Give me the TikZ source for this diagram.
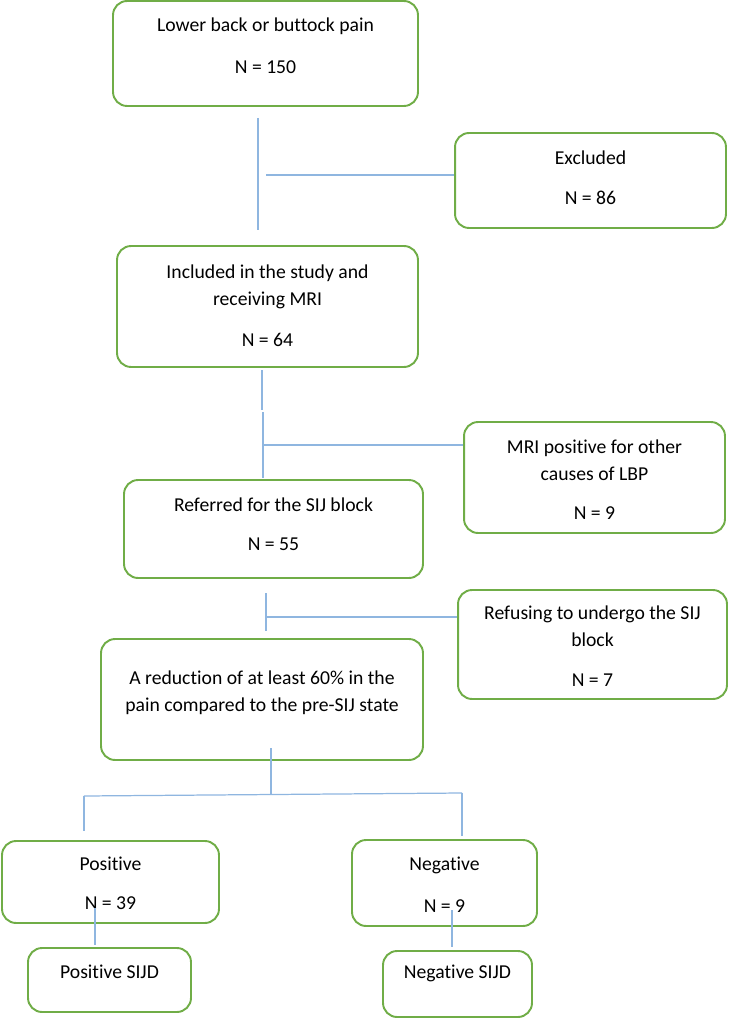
\documentclass[tikz,border=0pt]{standalone}
\usepackage{fontspec}
\setmainfont{Carlito}[Ligatures=NoCommon]
\definecolor{boxgreen}{RGB}{112,173,71}
\definecolor{linkblue}{RGB}{143,182,224}

\begin{document}
\begin{tikzpicture}[x=0.02cm, y=-0.02cm]

  % Styles for the rounded boxes, their texts and the thin connectors
  \tikzset{
    flowbox/.style={draw=boxgreen, line width=1.1pt, rounded corners=8pt, inner sep=0pt},
    boxtext/.style={font=\fontsize{11.2}{15.3}\selectfont, align=center, inner sep=0pt, text=black},
    link/.style={draw=linkblue, line width=0.7pt}
  }

  \useasboundingbox (0,0) rectangle (729,1020);

  % --- BOXES ---
  % Main column
  \node[flowbox, minimum width=6.1cm, minimum height=2.1cm] (low) at (265.5,53.5) {};
  \node[flowbox, minimum width=6.02cm, minimum height=2.42cm] (incl) at (267.5,306.5) {};
  \node[flowbox, minimum width=5.98cm, minimum height=1.96cm] (refd) at (273.5,529) {};
  \node[flowbox, minimum width=6.44cm, minimum height=2.42cm] (reduc) at (262,699.5) {};

  % Side boxes (excluded cases)
  \node[flowbox, minimum width=5.42cm, minimum height=1.9cm] (excl) at (590.5,180.5) {};
  \node[flowbox, minimum width=5.22cm, minimum height=2.22cm] (mri) at (594.5,477.5) {};
  \node[flowbox, minimum width=5.38cm, minimum height=2.18cm] (refuse) at (592.5,644.5) {};

  % Outcome boxes
  \node[flowbox, minimum width=4.34cm, minimum height=1.64cm] (pos) at (110.5,882) {};
  \node[flowbox, minimum width=3.7cm, minimum height=1.72cm] (neg) at (444.5,883) {};
  \node[flowbox, minimum width=3.26cm, minimum height=1.28cm] (possijd) at (109.5,980) {};
  \node[flowbox, minimum width=2.98cm, minimum height=1.32cm] (negsijd) at (457.5,984) {};

  % --- TEXTS ---
  \node[boxtext] (low-t) at (265.5,26) {Lower back or buttock pain};
  \node[boxtext] (low-n) at (265.5,67) {N = 150};
  \node[boxtext] (excl-t) at (590.5,158) {Excluded};
  \node[boxtext] (excl-n) at (590.5,198) {N = 86};
  \node[boxtext] (incl-t) at (267.5,286.5) {Included in the study and\\receiving MRI};
  \node[boxtext] (incl-n) at (267.5,340) {N = 64};
  \node[boxtext] (mri-t) at (594.5,460.5) {MRI positive for other\\causes of LBP};
  \node[boxtext] (mri-n) at (594.5,513) {N = 9};
  \node[boxtext] (refd-t) at (273.5,505) {Referred for the SIJ block};
  \node[boxtext] (refd-n) at (273.5,544) {N = 55};
  \node[boxtext] (refuse-t) at (592.5,626.5) {Refusing to undergo the SIJ\\block};
  \node[boxtext] (refuse-n) at (592.5,680) {N = 7};
  \node[boxtext] (reduc-t) at (262,693) {A reduction of at least 60\% in the\\pain compared to the pre-SIJ state};
  \node[boxtext] (pos-t) at (110.5,864) {Positive};
  \node[boxtext] (pos-n) at (110.5,903) {N = 39};
  \node[boxtext] (neg-t) at (444.5,865) {Negative};
  \node[boxtext] (neg-n) at (444.5,906) {N = 9};
  \node[boxtext] (possijd-t) at (109.5,972) {Positive SIJD};
  \node[boxtext] (negsijd-t) at (457.5,973) {Negative SIJD};

  % --- CONNECTORS ---
  % Free ends of the thin lines
  \coordinate (a1) at (258,118);
  \coordinate (a2) at (258,230);
  \coordinate (a3) at (266,175);
  \coordinate (b1) at (262,370);
  \coordinate (b2) at (262,410);
  \coordinate (b3) at (263,412);
  \coordinate (b4) at (263,478);
  \coordinate (b5) at (263,445);
  \coordinate (c1) at (266,593);
  \coordinate (c2) at (266,631);
  \coordinate (c3) at (266,617);
  \coordinate (d1) at (271,748);
  \coordinate (d2) at (271,795);
  \coordinate (d3) at (84,796);
  \coordinate (d4) at (462,793);
  \coordinate (d5) at (84,831);
  \coordinate (d6) at (462,836);
  \coordinate (e1) at (95,908);
  \coordinate (e2) at (95,945);
  \coordinate (e3) at (452,910);
  \coordinate (e4) at (452,947);

  \draw[link] (a1) -- (a2);
  \draw[link] (a3) -- (a3 -| excl.west);

  \draw[link] (b1) -- (b2);
  \draw[link] (b3) -- (b4);
  \draw[link] (b5) -- (b5 -| mri.west);

  \draw[link] (c1) -- (c2);
  \draw[link] (c3) -- (c3 -| refuse.west);

  \draw[link] (d1) -- (d2);
  \draw[link] (d3) -- (d4);
  \draw[link] (d3) -- (d5);
  \draw[link] (d4) -- (d6);

  \draw[link] (e1) -- (e2);
  \draw[link] (e3) -- (e4);

\end{tikzpicture}
\end{document}
